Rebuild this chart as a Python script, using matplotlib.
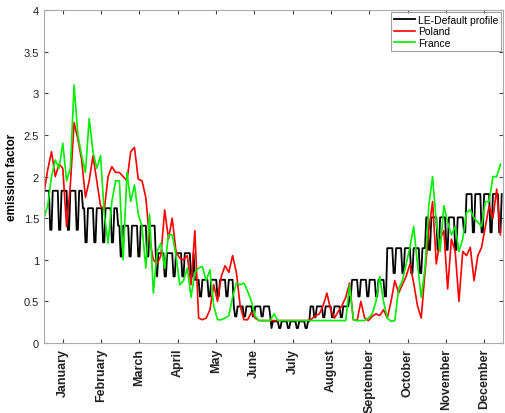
import numpy as np
import pandas as pd
import matplotlib
matplotlib.use("Agg")
import matplotlib.pyplot as plt

plt.rcParams['font.family'] = ['Liberation Sans', 'DejaVu Sans']

months = ['January', 'February', 'March', 'April', 'May', 'June', 'July',
          'August', 'September', 'October', 'November', 'December']

# default profile: weekday / weekend level per month
le_weekday = [1.83, 1.62, 1.41, 1.08, 0.76, 0.44, 0.26, 0.44, 0.76, 1.14, 1.51, 1.79]
le_weekend = [1.36, 1.21, 1.04, 0.80, 0.56, 0.32, 0.18, 0.31, 0.56, 0.84, 1.12, 1.33]

# country series, read every 3rd day
poland = [1.80, 2.08, 2.30, 2.00, 2.15, 2.10, 1.40, 1.90, 2.65, 2.45,
          2.20, 1.75, 1.95, 2.25, 1.95, 1.65, 1.60, 2.00, 2.12, 2.05,
          2.05, 2.00, 1.95, 2.30, 2.35, 1.97, 1.95, 1.75, 1.25, 1.00,
          0.95, 1.05, 1.60, 1.25, 1.50, 1.10, 1.02, 1.00, 1.05, 0.70,
          1.35, 0.30, 0.28, 0.30, 0.40, 0.70, 0.50, 0.80, 0.93, 0.85, 1.05,
          0.85, 0.45, 0.28, 0.28, 0.37, 0.30, 0.27, 0.27, 0.27, 0.27,
          0.27, 0.27, 0.27, 0.27, 0.27, 0.27, 0.27, 0.27, 0.27, 0.27,
          0.29, 0.33, 0.35, 0.45, 0.60, 0.40, 0.30, 0.38, 0.45, 0.55, 0.72,
          0.28, 0.27, 0.50, 0.30, 0.27, 0.32, 0.35, 0.33, 0.40, 0.30,
          0.50, 0.75, 0.60, 0.70, 0.80, 0.95, 0.72, 0.45, 0.30, 0.85,
          1.35, 1.70, 0.95, 1.25, 1.35, 0.65, 1.25, 1.10, 0.50, 1.10,
          1.05, 1.15, 0.75, 1.05, 1.15, 1.40, 1.65, 1.50, 1.85, 1.30]
france = [1.50, 1.65, 2.00, 2.20, 2.10, 2.40, 1.95, 2.10, 3.10, 2.50,
          2.25, 2.05, 2.70, 2.30, 2.10, 2.25, 1.55, 1.20, 1.70, 1.95,
          1.95, 1.00, 2.05, 1.70, 1.90, 1.55, 1.40, 0.90, 1.55, 0.60,
          1.10, 1.20, 0.90, 1.30, 1.30, 1.05, 0.70, 0.75, 0.90, 0.55,
          0.85, 0.90, 0.92, 0.75, 0.88, 0.45, 0.28, 0.28, 0.30, 0.33, 0.55,
          0.72, 0.70, 0.72, 0.62, 0.50, 0.32, 0.27, 0.27, 0.27, 0.27,
          0.35, 0.27, 0.27, 0.27, 0.27, 0.27, 0.27, 0.27, 0.27, 0.27,
          0.27, 0.27, 0.27, 0.27, 0.27, 0.27, 0.27, 0.27, 0.27, 0.27, 0.70,
          0.28, 0.27, 0.27, 0.27, 0.30, 0.35, 0.50, 0.80, 0.50, 0.30,
          0.26, 0.27, 0.65, 0.75, 0.95, 1.15, 1.40, 0.95, 0.55, 0.90,
          1.65, 2.00, 1.45, 1.10, 1.65, 1.45, 1.30, 1.40, 1.10, 1.25,
          1.57, 1.60, 1.50, 1.45, 1.40, 1.70, 1.70, 2.00, 2.00, 2.15]

#%% build daily default profile from calendar
dates = pd.date_range('2018-01-01', '2018-12-31', freq='D')
hi = np.array(le_weekday)[dates.month - 1]
lo = np.array(le_weekend)[dates.month - 1]
profile = np.where(dates.dayofweek >= 5, lo, hi)
day = np.arange(len(dates))

d3 = np.arange(0, 3 * len(poland), 3)

#%%
fig = plt.figure(figsize=(5.05, 4.14), dpi=100)
ax = fig.add_axes([0.087, 0.169, 0.909, 0.804])

ax.plot(day, profile, color='k', lw=1.3, label='LE-Default profile')
ax.plot(d3, poland, color='#ff0000', lw=1.2, label='Poland')
ax.plot(d3, france, color='#00ee00', lw=1.2, label='France')

ax.set_xlim(0, 365)
ax.set_ylim(0, 4)
ax.set_yticks([0, 0.5, 1, 1.5, 2, 2.5, 3, 3.5, 4])
ax.set_yticklabels(['0', '0.5', '1', '1.5', '2', '2.5', '3', '3.5', '4'])
ax.set_xticks(np.linspace(15, 350, 12))
ax.set_xticklabels(months, rotation=90, fontweight='bold', fontsize=9)
ax.tick_params(axis='y', labelsize=8)
ax.tick_params(direction='in', top=True, right=True, length=3,
               colors='#444444', labelcolor='#222222')
for s in ax.spines.values():
    s.set_color('#aaaaaa')
ax.set_ylabel('emission factor', fontsize=8.5, fontweight='bold')

leg = ax.legend(loc='upper right', fontsize=7.5, fancybox=False,
                edgecolor='#888888', borderaxespad=0.15, handlelength=2.0,
                labelspacing=0.15, borderpad=0.3, handletextpad=0.3)
leg.get_frame().set_linewidth(0.8)

fig.savefig('out.png', dpi=100)
